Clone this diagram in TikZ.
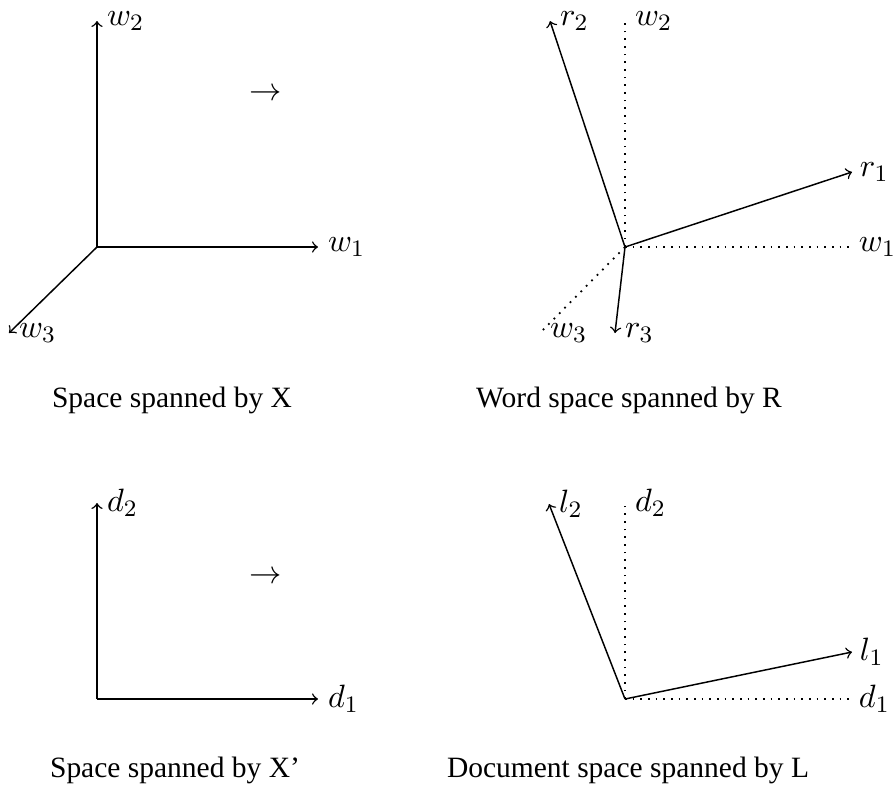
\documentclass[tikz,border=0pt]{standalone}
\usepackage{fontspec}
\setmainfont{Liberation Serif}
\usepackage{tikz}
\usetikzlibrary{positioning}
\tikzset{
  axis/.style={->, line width=0.5pt, color=black},
  oldaxis/.style={dotted, line width=0.6pt, color=black},
  lbl/.style={anchor=west, inner sep=3.2pt, font=\fontsize{11}{13}\selectfont},
  caption/.style={font=\normalsize}
}
\begin{document}
\begin{tikzpicture}[x=0.01192cm, y=-0.01192cm]
  \useasboundingbox (0,0) rectangle (893,792);

  % Space spanned by X
  \coordinate (ox) at (97,247);
  \node[lbl] (xw2) at (97,21) {$w_2$};
  \node[lbl] (xw1) at (318,247) {$w_1$};
  \node[lbl] (xw3) at (9,333) {$w_3$};
  \draw[axis] (ox) -- (xw2.west);
  \draw[axis] (ox) -- (xw1.west);
  \draw[axis] (ox) -- (xw3.west);
  \node[caption] (capx) at (172,400) {Space spanned by X};

  \node[lbl, anchor=center] (maptop) at (266,95) {$\rightarrow$};

  % Word space spanned by R
  \coordinate (or) at (625,247);
  \node[lbl] (rw2) at (625,21) {$w_2$};
  \node[lbl, inner sep=2.5pt] (rw1) at (851,247) {$w_1$};
  \node[lbl] (rw3) at (540,333) {$w_3$};
  \draw[oldaxis] (or) -- (rw2.west);
  \draw[oldaxis] (or) -- (rw1.west);
  \draw[oldaxis] (or) -- (rw3.west);
  \node[lbl] (r2) at (550,21) {$r_2$};
  \node[lbl, inner sep=2.5pt] (r1) at (852,172) {$r_1$};
  \node[lbl] (r3) at (615,333) {$r_3$};
  \draw[axis] (or) -- (r2.west);
  \draw[axis] (or) -- (r1.west);
  \draw[axis] (or) -- (r3.west);
  \node[caption] (capr) at (629,400) {Word space spanned by R};

  % Space spanned by X'
  \coordinate (od) at (97,699);
  \node[lbl] (xd2) at (97,503) {$d_2$};
  \node[lbl] (xd1) at (318,699) {$d_1$};
  \draw[axis] (od) -- (xd2.west);
  \draw[axis] (od) -- (xd1.west);
  \node[caption] (capxp) at (175,770) {Space spanned by X'};

  \node[lbl, anchor=center] (mapbot) at (266,578) {$\rightarrow$};

  % Document space spanned by L
  \coordinate (ol) at (625,699);
  \node[lbl] (ld2) at (625,503) {$d_2$};
  \node[lbl, inner sep=2.5pt] (ld1) at (851,699) {$d_1$};
  \draw[oldaxis] (ol) -- (ld2.west);
  \draw[oldaxis] (ol) -- (ld1.west);
  \node[lbl] (l2) at (549,504) {$l_2$};
  \node[lbl, inner sep=2.5pt] (l1) at (852,652) {$l_1$};
  \draw[axis] (ol) -- (l2.west);
  \draw[axis] (ol) -- (l1.west);
  \node[caption] (capl) at (628,770) {Document space spanned by L};
\end{tikzpicture}
\end{document}
